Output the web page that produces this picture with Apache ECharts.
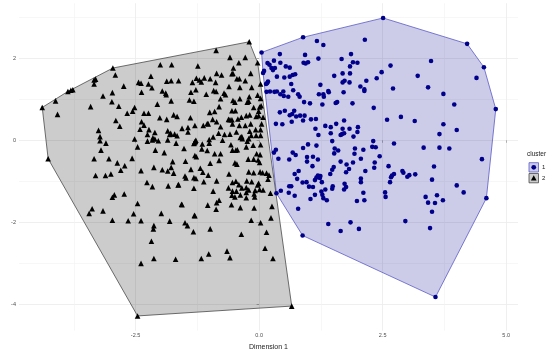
<!DOCTYPE html>
<html>
<head>
<meta charset="utf-8">
<script src="https://cdn.jsdelivr.net/npm/echarts@6/dist/echarts.min.js"></script>
<style>
html,body{margin:0;padding:0;background:#fff;}
#chart{width:550px;height:349px;}
</style>
</head>
<body>
<div id="chart"></div>
<script>
// ---- data (Dimension 1, Dimension 2) ----
const clusterNames = ['1', '2'];

const cluster1 = [
[0.05,2.14],[0.89,2.51],[1.17,2.42],[1.30,2.32],[2.14,2.45],[0.42,2.10],[0.93,2.08],[1.20,1.99],[1.86,2.10],[1.67,1.98],[1.90,1.90],[1.99,1.89],[0.17,1.88],[0.21,1.84],[0.30,1.94],[0.43,1.89],[0.90,1.89],[0.94,1.87],[0.99,1.90],[0.25,1.76],[0.28,1.71],[0.32,1.76],[0.54,1.80],[0.62,1.77],[1.84,1.80],[0.10,1.69],[0.08,1.64],[2.48,1.66],[0.36,1.55],[0.51,1.53],[0.62,1.55],[0.68,1.59],[0.73,1.61],[1.69,1.63],[1.84,1.63],[1.52,1.57],[2.38,1.51],[0.18,1.43],[0.16,1.39],[0.14,1.37],[1.69,1.41],[1.73,1.45],[1.83,1.41],[2.17,1.45],[0.65,1.37],[1.24,1.35],[2.05,1.31],[2.13,1.24],[2.13,1.20],[0.15,1.18],[0.22,1.19],[0.31,1.18],[0.36,1.19],[0.49,1.19],[0.69,1.22],[0.79,1.12],[0.82,1.06],[1.40,1.20],[1.41,1.17],[1.30,1.12],[1.31,1.06],[1.21,1.12],[1.71,1.17],[0.43,1.12],[0.50,1.08],[0.59,1.06],[0.91,0.93],[1.03,0.90],[1.28,0.87],[1.55,0.91],[1.58,0.93],[1.89,0.90],[2.32,0.79],[0.42,0.68],[0.52,0.72],[0.62,0.61],[0.67,0.64],[0.71,0.72],[0.75,0.58],[0.83,0.60],[0.92,0.60],[0.89,0.48],[1.05,0.51],[1.15,0.52],[0.66,0.45],[0.34,0.40],[0.47,0.39],[1.72,0.48],[1.34,0.35],[1.45,0.32],[1.56,0.40],[1.14,0.28],[1.69,0.28],[1.83,0.28],[2.00,0.32],
[2.51,2.98],[4.21,2.35],[4.55,1.78],[4.79,0.76],[3.48,1.93],[2.66,1.82],[3.21,1.57],[4.40,1.52],[2.71,1.26],[3.42,1.29],[3.73,1.13],[3.95,0.87],[2.59,0.50],[2.87,0.57],[3.15,0.47],[3.73,0.39],[3.65,0.15],[4.00,0.25],[2.73,-0.08],[3.33,-0.18],[3.65,-0.18],[3.85,-0.20],[4.51,-0.46],[3.54,-0.64],
[1.20,0.13],[1.45,0.17],[1.68,0.15],[1.72,0.17],[1.65,0.13],[1.91,0.09],[1.99,0.20],[1.48,-0.02],[0.99,-0.10],[0.89,-0.19],[1.16,-0.13],[0.34,-0.23],[0.30,-0.30],[0.39,-0.45],[0.68,-0.30],[0.74,-0.36],[0.97,-0.41],[1.09,-0.40],[0.61,-0.47],[1.19,-0.47],[0.97,-0.52],[1.53,-0.20],[1.60,-0.25],[1.52,-0.32],[1.94,-0.20],[2.11,-0.23],[1.93,-0.33],[2.31,-0.02],[2.29,-0.16],[2.36,-0.17],[2.44,-0.39],[1.65,-0.52],[1.77,-0.59],[1.90,-0.54],[2.06,-0.45],[1.51,-0.65],[1.48,-0.72],[1.08,-0.63],[0.80,-0.75],[0.72,-0.82],[2.15,-0.75],[2.33,-0.67],[2.34,-0.54],[1.82,-0.70],[1.76,-0.78],[1.44,-0.82],[1.19,-0.86],[1.24,-0.87],[1.23,-0.92],[1.16,-0.91],[1.13,-0.97],[0.77,-0.94],[0.88,-1.03],[0.96,-1.02],[1.01,-1.13],[1.09,-1.14],[1.27,-1.02],[1.34,-1.20],[1.49,-1.12],[1.48,-1.18],[1.73,-1.06],[1.76,-1.14],[1.72,-1.20],[2.06,-0.93],[2.06,-1.02],[0.61,-1.12],[0.65,-1.12],[0.60,-1.28],[0.72,-1.35],[1.13,-1.33],[1.26,-1.25],[1.28,-1.33],[1.30,-1.41],[1.04,-1.43],[1.37,-1.46],[0.44,-1.23],[2.11,-1.28],[1.98,-1.48],[2.13,-1.46],[0.79,-1.67],[1.40,-2.04],[1.85,-2.00],
[0.35,-1.29],[0.88,-2.32],[3.57,-3.82],[4.60,-1.41],[1.65,-2.21],[2.02,-2.16],[2.96,-1.97],[3.46,-2.14],[2.55,-1.27],[2.56,-1.38],[3.37,-1.38],[3.42,-1.52],[3.56,-1.53],[3.60,-1.34],[3.72,-1.46],[3.50,-1.74],[4.00,-1.10],[4.14,-1.27],[3.50,-0.96],[2.65,-1.02],[2.69,-0.86],[2.67,-0.90],[2.73,-0.82],[2.90,-0.75],[3.00,-0.89],[3.04,-0.85],[3.16,-0.83],[2.92,-0.79],[2.62,-0.63]
];

const cluster2 = [
[-4.39,0.80],[-4.12,0.96],[-4.08,0.63],[-3.87,1.19],[-3.81,1.22],[-3.77,1.23],[-3.34,1.47],[-3.31,1.49],[-3.34,1.37],[-2.96,1.76],[-2.91,1.59],[-2.74,1.32],[-3.16,1.08],[-2.97,1.16],[-2.98,0.94],[-3.41,0.82],[-2.84,0.83],[-2.67,0.66],[-2.56,0.71],[-2.52,0.80],[-2.33,0.66],[-2.24,0.66],[-2.44,1.41],[-2.39,1.39],[-2.24,1.37],[-2.17,1.28],[-2.19,1.56],[-2.38,1.17],[-2.00,1.84],[-1.77,1.84],[-1.87,1.44],[-1.96,1.20],[-1.89,1.15],[-1.88,1.11],[-1.78,1.45],[-2.06,0.88],[-1.78,0.96],[-2.01,0.55],[-1.87,0.51],[-2.90,0.48],[-2.82,0.34],[-2.38,0.45],[-2.33,0.37],[-2.41,0.27],[-2.23,0.26],[-3.25,0.24],[-3.22,0.09],[-3.22,-0.01],[-3.10,-0.07],[-3.20,-0.24],[-2.52,0.03],[-2.46,-0.16],[-2.26,0.14],[-2.15,0.06],[-2.16,0.01],[-2.11,0.03],[-2.04,-0.01],[-2.26,-0.02],[-2.11,0.19],[-1.85,0.23],[-1.81,0.14],[-1.85,0.01],[-2.10,-0.24],[-1.92,-0.30],[-4.27,-0.45],[-3.34,-0.45],[-3.04,-0.45],[-2.57,-0.44],
[-0.20,2.40],[-0.87,2.19],[-0.59,2.02],[-0.28,2.02],[-0.41,1.89],[-0.03,1.89],[-1.24,1.81],[-0.52,1.76],[-0.86,1.63],[-0.76,1.59],[-0.55,1.62],[-0.53,1.63],[-0.17,1.63],[-1.27,1.51],[-1.11,1.52],[-0.99,1.50],[-1.21,1.47],[-1.17,1.42],[-1.35,1.41],[-0.88,1.41],[-0.45,1.50],[-0.40,1.50],[-0.28,1.45],[0.03,1.37],[-1.63,1.45],[-0.61,1.31],[-0.39,1.29],[-0.15,1.29],[-0.92,1.21],[-0.87,1.19],[-0.71,1.15],[-0.68,1.11],[-1.28,1.23],[-1.38,1.17],[-1.07,1.12],[-0.78,1.01],[-0.39,1.01],[-0.20,1.06],[-0.03,1.10],[-1.41,0.98],[-1.32,0.95],[-0.53,0.97],[-0.49,0.93],[-0.24,0.93],[-0.21,0.95],[0.03,1.02],[0.01,0.81],[0.04,0.84],[-0.81,0.82],[-0.11,0.80],[-0.48,0.72],[-0.55,0.72],[-0.90,0.70],[-1.00,0.68],[-0.26,0.60],[-0.01,0.71],[-0.01,0.60],[-1.73,0.62],[-1.66,0.58],[-1.39,0.55],[-0.62,0.51],[-0.59,0.50],[-0.55,0.50],[-0.43,0.52],[-0.36,0.56],[-0.19,0.62],[-0.06,0.58],[-0.94,0.51],[0.08,0.56],[0.05,0.40],[-0.86,0.45],[-1.05,0.41],
[-1.30,0.36],[-1.13,0.36],[-1.03,0.40],[-0.78,0.33],[-0.54,0.40],[-0.40,0.36],[-0.28,0.36],[-0.17,0.40],[-0.07,0.26],[0.03,0.26],[-1.56,0.29],[-1.44,0.20],[-1.44,0.31],[-1.71,0.15],[-1.79,0.17],[-1.66,0.11],[-0.82,0.17],[-0.70,0.14],[-0.59,0.15],[-0.46,0.20],[-0.19,0.22],[-0.16,0.12],[0.03,0.12],[-0.06,0.12],[-1.01,0.02],[-0.93,0.08],[-0.74,0.00],[-0.38,0.07],[-0.35,0.09],[-0.34,0.04],[-0.24,-0.02],[-0.21,0.04],[-1.32,-0.08],[-1.30,-0.04],[-1.28,0.00],[-1.31,-0.06],[-1.29,-0.02],[-1.68,-0.07],[-1.15,-0.09],[-1.01,-0.07],[-0.57,-0.11],[-0.26,-0.16],[-0.12,-0.12],[0.03,-0.11],[-1.52,-0.20],[-1.16,-0.21],[-0.54,-0.24],[-0.47,-0.24],[-0.44,-0.23],[-1.05,-0.25],[-0.90,-0.33],[-0.78,-0.33],[-0.05,-0.33],[0.02,-0.35],[-1.30,-0.37],[-1.27,-0.40],[-0.11,-0.46],[-0.22,-0.46],[-0.81,-0.49],[-1.75,-0.52],[-1.49,-0.51],[-0.99,-0.56],[-0.49,-0.55],[-0.45,-0.58],[-0.02,-0.48],[0.01,-0.54],[-1.19,-0.68],[-1.14,-0.78],[-1.38,-0.71],[-0.61,-0.82],[-0.21,-0.77],[-0.11,-0.79],[0.02,-0.77],[-1.73,-0.80],[-1.50,-0.87],[-1.48,-0.92],[-1.32,-0.91],[-1.28,-0.93],[-1.12,-1.01],[-0.86,-0.99],[-0.54,-1.03],[-0.47,-1.00],[-0.41,-1.08],[-0.25,-0.99],[-0.15,-1.01],[-0.03,-1.09],[-0.01,-1.05],[-1.64,-1.09],[-1.32,-1.17],[-0.62,-1.16],[-0.54,-1.24],[-0.46,-1.24],[-0.35,-1.16],[-0.26,-1.15],[-0.21,-1.21],[-0.08,-1.22],[0.01,-1.20],[-0.93,-1.24],[-0.26,-1.27],[-0.38,-1.33],[-0.10,-1.31],[-0.55,-1.34],[-0.49,-1.38],[-0.26,-1.40],[-0.09,-1.38],[-0.81,-1.46],[-0.86,-1.52],[-1.56,-1.57],[-1.04,-1.58],[-0.87,-1.68],[-0.56,-1.57],[-0.38,-1.64],[-0.10,-1.65],[0.26,-1.61],[-1.30,-1.84],[0.24,-1.89],
[-3.31,-0.86],[-3.11,-0.86],[-3.00,-0.82],[-2.80,-0.73],[-2.87,-0.55],[-2.72,-0.62],[-2.39,-0.74],[-2.13,-0.66],[-1.96,-0.72],[-1.85,-0.75],[-1.78,-0.66],[-2.27,-1.03],[-2.16,-1.13],[-1.84,-1.11],[-1.63,-1.08],[-1.03,-0.85],[-2.93,-1.33],[-2.97,-1.39],[-2.73,-1.31],[-2.46,-1.54],[-1.57,-1.56],[-3.38,-1.67],[-3.44,-1.78],[-3.16,-1.72],[-2.54,-1.79],[-1.98,-1.78],[-1.31,-1.83],[-2.97,-1.95],[-2.65,-1.96],[-2.39,-1.96],[-1.81,-1.97],[-1.50,-2.01],[-1.45,-2.08],[-2.13,-2.08],[-2.14,-2.16],[-1.33,-2.23],[-0.99,-2.16],[-0.36,-2.29],[-0.16,-1.95],[0.03,-2.01],[0.15,-2.24],[-2.18,-2.46],[0.12,-2.63],[-0.65,-2.70],[-1.02,-2.77],[-1.17,-2.88],[-2.13,-2.88],[-1.69,-2.90],[-0.59,-2.86],[0.28,-2.88],[-2.39,-3.00],[-2.46,-4.28],
[0.07,-0.79],[0.15,-0.80],[0.20,-0.85],[0.18,-0.95],[0.08,-1.21],[0.23,-1.29],[0.66,-4.04]
];

const xMajorTicks = [-2.5, 0, 2.5, 5];
const xMinorTicks = [-3.75, -1.25, 1.25, 3.75];
const yMajorTicks = [-4, -2, 0, 2];
const yMinorTicks = [-3, -1, 1, 3];

// ---- helpers ----
function convexHull(pts) {
  const p = pts.slice().sort((a, b) => a[0] - b[0] || a[1] - b[1]);
  const cross = (o, a, b) => (a[0]-o[0])*(b[1]-o[1]) - (a[1]-o[1])*(b[0]-o[0]);
  const lower = [];
  for (const q of p) { while (lower.length >= 2 && cross(lower[lower.length-2], lower[lower.length-1], q) <= 0) lower.pop(); lower.push(q); }
  const upper = [];
  for (let i = p.length - 1; i >= 0; i--) { const q = p[i]; while (upper.length >= 2 && cross(upper[upper.length-2], upper[upper.length-1], q) <= 0) upper.pop(); upper.push(q); }
  upper.pop(); lower.pop();
  return lower.concat(upper);
}

function hullSeries(points, fill, stroke, z) {
  const hull = convexHull(points);
  return {
    type: 'custom', z: z, silent: true,
    xAxisIndex: 0, yAxisIndex: 0,
    data: hull,
    renderItem: function (params, api) {
      if (params.dataIndex !== 0) return null;
      const pts = hull.map(h => api.coord(h));
      return { type: 'polygon', shape: { points: pts }, style: { fill: fill, stroke: stroke, lineWidth: 0.8 } };
    }
  };
}

const font = 'Liberation Sans, Arial, sans-serif';
const xMin = -4.86, xMax = 5.24, yMin = -4.64, yMax = 3.34;

const chart = echarts.init(document.getElementById('chart'), null, { renderer: 'canvas' });
chart.setOption({
  animation: false,
  backgroundColor: '#ffffff',
  grid: { left: 19, right: 32, top: 3.2, bottom: 18.3, containLabel: false, outerBoundsMode: 'none' },
  xAxis: [
    { type: 'value', min: xMin, max: xMax,
      axisLine: { show: false },
      axisTick: { show: true, customValues: xMajorTicks, length: 2.5, lineStyle: { color: '#7f7f7f', width: 0.6 } },
      axisLabel: { customValues: xMajorTicks, formatter: v => v.toFixed(1), fontSize: 5.5, color: '#4d4d4d', margin: 2, fontFamily: font },
      splitLine: { show: true, lineStyle: { color: '#ebebeb', width: 0.8 } },
      name: 'Dimension 1', nameLocation: 'middle', nameGap: 10,
      nameTextStyle: { fontSize: 7, color: '#222', fontFamily: font } },
    { type: 'value', min: xMin, max: xMax, position: 'top',
      axisLine: { show: false }, axisLabel: { show: false },
      axisTick: { show: false, customValues: xMinorTicks },
      splitLine: { show: true, lineStyle: { color: '#f2f2f2', width: 0.6 } } }
  ],
  yAxis: [
    { type: 'value', min: yMin, max: yMax, position: 'left',
      axisLine: { show: false },
      axisTick: { show: true, customValues: yMajorTicks, length: 2.5, lineStyle: { color: '#7f7f7f', width: 0.6 } },
      axisLabel: { customValues: yMajorTicks, formatter: v => String(v), fontSize: 5.5, color: '#4d4d4d', margin: 3, fontFamily: font },
      splitLine: { show: true, lineStyle: { color: '#ebebeb', width: 0.8 } },
      name: 'Dimension 2', nameLocation: 'middle', nameGap: 9.5, nameRotate: 90,
      nameTextStyle: { fontSize: 7, color: '#222', fontFamily: font } },
    { type: 'value', min: yMin, max: yMax, position: 'right',
      axisLine: { show: false }, axisLabel: { show: false },
      axisTick: { show: false, customValues: yMinorTicks },
      splitLine: { show: true, lineStyle: { color: '#f2f2f2', width: 0.6 } } }
  ],
  series: [
    hullSeries(cluster1, 'rgba(0,0,139,0.2)', '#5a5ac8', 1),
    hullSeries(cluster2, 'rgba(0,0,0,0.2)', '#4a4a4a', 2),
    { type: 'scatter', name: clusterNames[0], data: cluster1, z: 3, symbol: 'circle', symbolSize: 4.6,
      itemStyle: { color: '#00008B', opacity: 1 }, silent: true },
    { type: 'scatter', name: clusterNames[1], data: cluster2, z: 4, symbol: 'triangle', symbolSize: 5.6,
      itemStyle: { color: '#000000', opacity: 1 }, silent: true }
  ],
  graphic: [
    { type: 'text', left: 527, top: 151, style: { text: 'cluster', fontSize: 6.5, fill: '#222', fontFamily: font } },
    { type: 'rect', shape: { x: 529, y: 162.7, width: 9.5, height: 9.3 }, style: { fill: 'rgba(0,0,139,0.2)', stroke: '#5a5ac8', lineWidth: 0.8 } },
    { type: 'circle', shape: { cx: 533.75, cy: 167.35, r: 2.4 }, style: { fill: '#00008B' } },
    { type: 'text', left: 542, top: 164.2, style: { text: clusterNames[0], fontSize: 6, fill: '#222', fontFamily: font } },
    { type: 'rect', shape: { x: 529, y: 173.5, width: 9.5, height: 9.3 }, style: { fill: 'rgba(0,0,0,0.2)', stroke: '#4a4a4a', lineWidth: 0.8 } },
    { type: 'polygon', shape: { points: [[533.75, 175.2], [536.6, 180.6], [530.9, 180.6]] }, style: { fill: '#000' } },
    { type: 'text', left: 542, top: 175, style: { text: clusterNames[1], fontSize: 6, fill: '#222', fontFamily: font } }
  ]
});
</script>
</body>
</html>
